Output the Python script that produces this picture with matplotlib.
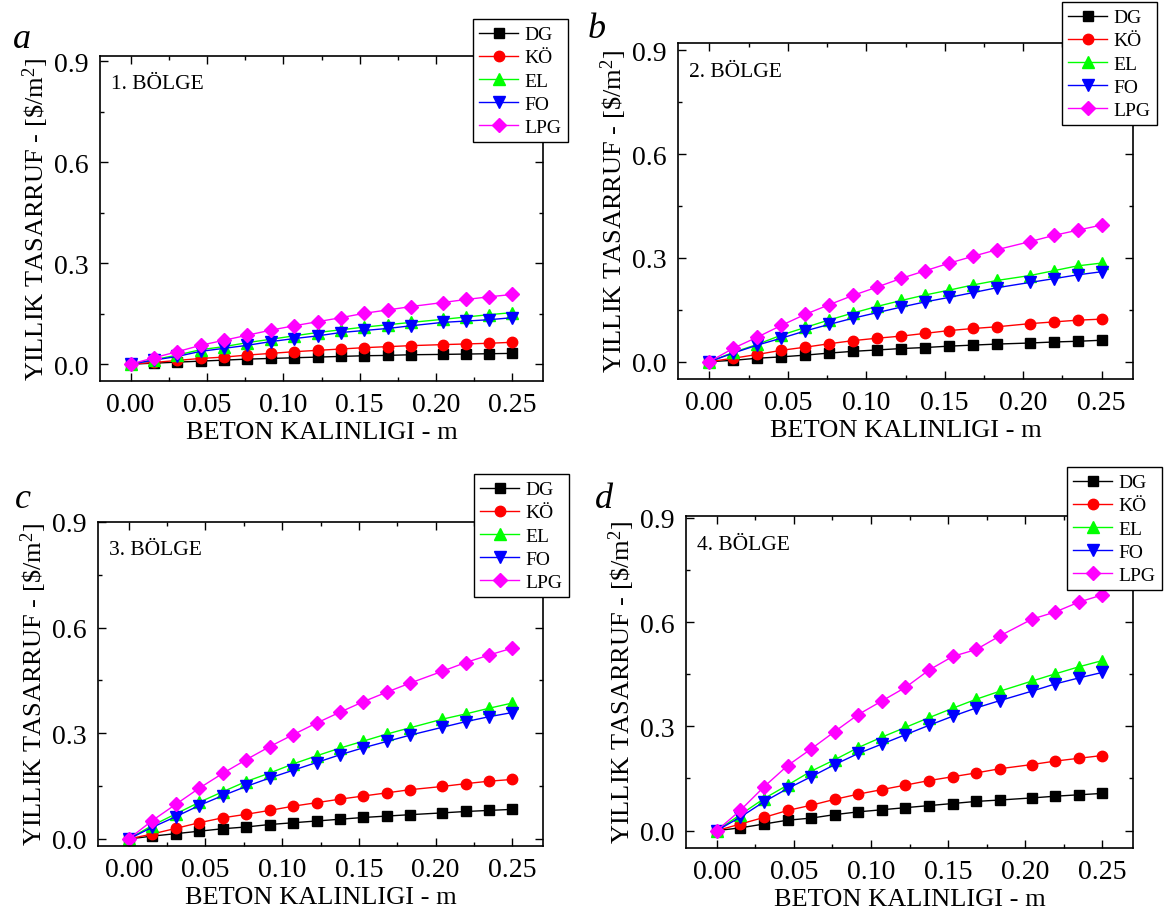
import matplotlib
matplotlib.use("Agg")
import matplotlib.pyplot as plt
from matplotlib.ticker import MultipleLocator

plt.rcParams["font.family"] = ["Liberation Serif", "DejaVu Serif"]
plt.rcParams["mathtext.fontset"] = "custom"
plt.rcParams["mathtext.rm"] = "Liberation Serif"
plt.rcParams["mathtext.it"] = "Liberation Serif:italic"

# beton kalinligi (m)
thickness = [0.0, 0.0153, 0.0306, 0.0459, 0.0612, 0.0765, 0.0918, 0.1071, 0.1224,
             0.1377, 0.1530, 0.1683, 0.1836, 0.2043, 0.2196, 0.2347, 0.25]

fuels = ["DG", "KÖ", "EL", "FO", "LPG"]
regions = ["1. BÖLGE", "2. BÖLGE", "3. BÖLGE", "4. BÖLGE"]
panel_letters = ["a", "b", "c", "d"]

# 1. bolge
r1_dg = [0, 0.003, 0.006, 0.009, 0.012, 0.015, 0.017, 0.019, 0.021, 0.023, 0.025,
         0.026, 0.028, 0.029, 0.030, 0.031, 0.032]
r1_ko = [0, 0.005, 0.011, 0.017, 0.021, 0.027, 0.032, 0.037, 0.041, 0.045, 0.049,
         0.052, 0.055, 0.058, 0.060, 0.062, 0.065]
r1_el = [0, 0.013, 0.027, 0.043, 0.052, 0.064, 0.074, 0.084, 0.094, 0.102, 0.110,
         0.117, 0.124, 0.133, 0.140, 0.147, 0.153]
r1_fo = [0, 0.012, 0.023, 0.038, 0.047, 0.056, 0.067, 0.076, 0.084, 0.094, 0.100,
         0.106, 0.114, 0.124, 0.128, 0.132, 0.138]
r1_lpg = [0, 0.019, 0.037, 0.056, 0.071, 0.086, 0.101, 0.114, 0.126, 0.138, 0.151,
          0.161, 0.171, 0.183, 0.192, 0.200, 0.207]

# 2. bolge
r2_dg = [0, 0.004, 0.010, 0.014, 0.019, 0.025, 0.030, 0.034, 0.038, 0.041, 0.045,
         0.048, 0.051, 0.054, 0.057, 0.059, 0.062]
r2_ko = [0, 0.010, 0.021, 0.033, 0.042, 0.052, 0.061, 0.068, 0.074, 0.082, 0.090,
         0.096, 0.101, 0.110, 0.115, 0.120, 0.123]
r2_el = [0, 0.027, 0.050, 0.077, 0.099, 0.121, 0.141, 0.160, 0.177, 0.193, 0.207,
         0.222, 0.235, 0.249, 0.263, 0.277, 0.285]
r2_fo = [0, 0.025, 0.048, 0.068, 0.089, 0.108, 0.126, 0.142, 0.158, 0.173, 0.186,
         0.200, 0.214, 0.229, 0.240, 0.251, 0.260]
r2_lpg = [0, 0.039, 0.071, 0.105, 0.137, 0.165, 0.192, 0.216, 0.241, 0.263, 0.285,
          0.305, 0.324, 0.347, 0.365, 0.380, 0.395]

# 3. bolge
r3_dg = [0, 0.008, 0.015, 0.022, 0.029, 0.034, 0.041, 0.046, 0.051, 0.056, 0.061,
         0.065, 0.069, 0.074, 0.078, 0.081, 0.084]
r3_ko = [0, 0.014, 0.030, 0.046, 0.060, 0.070, 0.081, 0.093, 0.103, 0.113, 0.122,
         0.131, 0.140, 0.149, 0.157, 0.164, 0.169]
r3_el = [0, 0.038, 0.071, 0.104, 0.134, 0.163, 0.187, 0.213, 0.236, 0.258, 0.278,
         0.298, 0.316, 0.340, 0.355, 0.371, 0.386]
r3_fo = [0, 0.033, 0.063, 0.095, 0.123, 0.149, 0.173, 0.195, 0.217, 0.239, 0.259,
         0.277, 0.295, 0.317, 0.333, 0.347, 0.359]
r3_lpg = [0, 0.052, 0.098, 0.144, 0.186, 0.225, 0.262, 0.296, 0.329, 0.360, 0.390,
          0.417, 0.443, 0.476, 0.501, 0.522, 0.542]

# 4. bolge
r4_dg = [0, 0.008, 0.019, 0.030, 0.036, 0.046, 0.054, 0.060, 0.066, 0.072, 0.078,
         0.084, 0.088, 0.094, 0.099, 0.103, 0.107]
r4_ko = [0, 0.019, 0.038, 0.058, 0.073, 0.090, 0.105, 0.118, 0.131, 0.144, 0.155,
         0.166, 0.178, 0.190, 0.200, 0.208, 0.216]
r4_el = [0, 0.046, 0.092, 0.131, 0.171, 0.204, 0.239, 0.269, 0.297, 0.325, 0.352,
         0.378, 0.401, 0.430, 0.451, 0.471, 0.489]
r4_fo = [0, 0.039, 0.083, 0.121, 0.155, 0.190, 0.222, 0.249, 0.276, 0.303, 0.329,
         0.353, 0.374, 0.401, 0.422, 0.439, 0.455]
r4_lpg = [0, 0.0585, 0.126, 0.187, 0.235, 0.285, 0.334, 0.373, 0.412, 0.462, 0.501,
          0.521, 0.560, 0.608, 0.629, 0.657, 0.678]

data = [
    [r1_dg, r1_ko, r1_el, r1_fo, r1_lpg],
    [r2_dg, r2_ko, r2_el, r2_fo, r2_lpg],
    [r3_dg, r3_ko, r3_el, r3_fo, r3_lpg],
    [r4_dg, r4_ko, r4_el, r4_fo, r4_lpg],
]

colors = ["black", "#ff0000", "#00ff00", "#0000ff", "#ff00ff"]
markers = ["s", "o", "^", "v", "D"]
msizes = [6.5, 7.5, 8, 8, 7]

W, H = 1168, 920
fig = plt.figure(figsize=(W / 100, H / 100), dpi=100)

# axes boxes in pixels: left, right, top, bottom
boxes = [(100, 543, 57, 382), (678, 1133, 44, 380),
         (98, 543, 523, 847), (686, 1133, 517, 849)]
ylims = [(-0.05, 0.915), (-0.05, 0.921), (-0.02, 0.90), (-0.05, 0.905)]
legend_corner = [(568, 20), (1157, 3), (569, 475), (1162, 468)]
letter_pos = [(13, 48), (588, 38), (15, 508), (595, 508)]

for i in range(4):
    l, r, t, b = boxes[i]
    ax = fig.add_axes([l / W, 1 - b / H, (r - l) / W, (b - t) / H])
    for j, fuel in enumerate(fuels):
        ax.plot(thickness, data[i][j], color=colors[j], marker=markers[j],
                ms=msizes[j], lw=1, label=fuel)
    ax.set_xlim(-0.02, 0.27)
    ax.set_ylim(*ylims[i])
    ax.xaxis.set_minor_locator(MultipleLocator(0.025))
    ax.yaxis.set_minor_locator(MultipleLocator(0.15))
    ax.set_xticks([0, 0.05, 0.10, 0.15, 0.20, 0.25])
    ax.set_xticklabels(["0.00", "0.05", "0.10", "0.15", "0.20", "0.25"])
    ax.set_yticks([0, 0.3, 0.6, 0.9])
    ax.set_yticklabels(["0.0", "0.3", "0.6", "0.9"])
    ax.tick_params(which="both", direction="in", top=True, right=True,
                   labelsize=20, width=1)
    ax.tick_params(which="major", length=6, pad=8)
    ax.tick_params(which="minor", length=3)
    for sp in ax.spines.values():
        sp.set_linewidth(1.2)
    ax.set_xlabel("BETON KALINLIGI - m", fontsize=19, labelpad=3)
    ax.set_ylabel(r"YILLIK TASARRUF - [\$/m$^{2}$]", fontsize=19, labelpad=2)
    ax.text(0.025, 0.915, regions[i], transform=ax.transAxes, fontsize=15.5,
            ha="left", va="center")
    lx, ly = legend_corner[i]
    leg = ax.legend(loc="upper right", bbox_to_anchor=(lx / W, 1 - ly / H),
                    bbox_transform=fig.transFigure, borderaxespad=0,
                    fontsize=14, fancybox=False, edgecolor="black",
                    framealpha=1, handlelength=2.0, handletextpad=0.3,
                    labelspacing=0.28, borderpad=0.35)
    leg.get_frame().set_linewidth(1)
    px, py = letter_pos[i]
    fig.text(px / W, 1 - py / H, panel_letters[i], fontsize=26,
             style="italic", ha="left", va="baseline")

fig.savefig("out.png", dpi=100)
